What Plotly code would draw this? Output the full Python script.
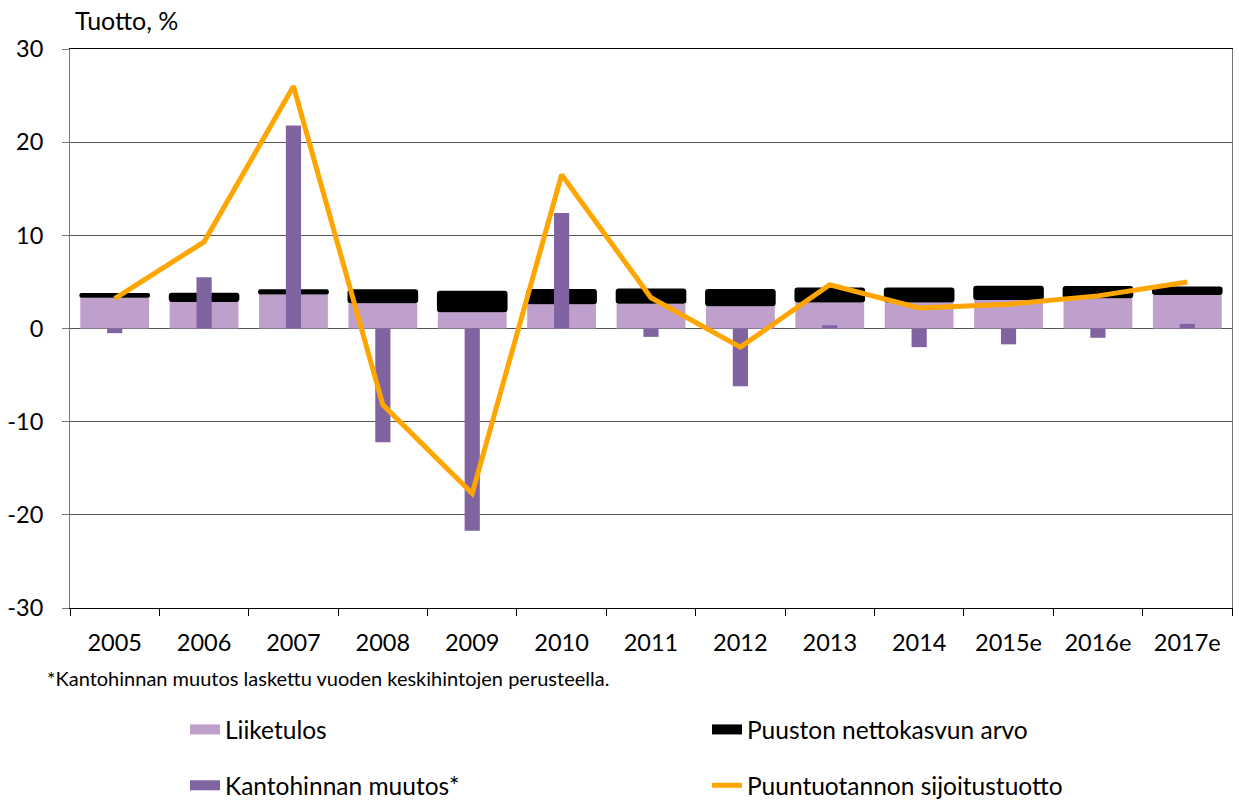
import plotly.graph_objects as go

years = ["2005", "2006", "2007", "2008", "2009", "2010", "2011", "2012", "2013",
         "2014", "2015e", "2016e", "2017e"]
liiketulos = [3.3, 2.85, 3.65, 2.7, 1.75, 2.6, 2.65, 2.4, 2.8, 2.8, 3.05, 3.25, 3.6]
nettokasvu = [0.5, 1.0, 0.55, 1.5, 2.3, 1.65, 1.65, 1.85, 1.6, 1.6, 1.55, 1.3, 0.9]
kantohinta = [-0.5, 5.5, 21.8, -12.2, -21.7, 12.4, -0.9, -6.2, 0.35, -2.0, -1.7, -1.0, 0.5]
sijoitustuotto = [3.2, 9.3, 26.0, -8.2, -17.7, 16.5, 3.3, -2.0, 4.7, 2.2, 2.6, 3.5, 5.0]
y_ticks = [-30, -20, -10, 0, 10, 20, 30]
y_ticktext = ["-30", "-20", "-10", "0", "10", "20", "30"]

C_LIIKE = "#BFA0CC"
C_NETTO = "#000000"
C_KANTO = "#8064A2"
C_LINE = "#FFA500"
FONT = "Lato, 'Open Sans', sans-serif"

fig = go.Figure()
fig.add_trace(go.Bar(x=years, y=liiketulos, width=0.77, marker=dict(color=C_LIIKE, line_width=0),
                     name="Liiketulos", showlegend=False))
fig.add_trace(go.Bar(x=years, y=nettokasvu, base=liiketulos, width=0.79,
                     marker=dict(color=C_NETTO, line_width=0, cornerradius=3),
                     name="Puuston nettokasvun arvo", showlegend=False))
fig.add_trace(go.Bar(x=years, y=kantohinta, width=0.17, marker=dict(color=C_KANTO, line_width=0),
                     name="Kantohinnan muutos*", showlegend=False))
fig.add_trace(go.Scatter(x=years, y=sijoitustuotto, mode="lines",
                         line=dict(color=C_LINE, width=5),
                         name="Puuntuotannon sijoitustuotto", showlegend=False))

# legend entries
def leg(name, color, width, legend, group):
    fig.add_trace(go.Scatter(x=[None], y=[None], mode="lines", name=name,
                             line=dict(color=color, width=width),
                             legend=legend, legendgroup=group, showlegend=True))

leg("Liiketulos", C_LIIKE, 17, "legend", "a")
leg("Kantohinnan muutos*", C_KANTO, 17, "legend", "b")
leg("Puuston nettokasvun arvo", C_NETTO, 17, "legend2", "c")
leg("Puuntuotannon sijoitustuotto", C_LINE, 5, "legend2", "d")

legend_common = dict(orientation="v", font=dict(family=FONT, size=24.5, color="#000"),
                     bgcolor="rgba(0,0,0,0)", tracegroupgap=21, xanchor="left", yanchor="top",
                     xref="container", yref="container",
                     itemwidth=30, itemclick=False, itemdoubleclick=False)

fig.update_layout(
    width=1239, height=802,
    margin=dict(l=70, r=7, t=49, b=194, autoexpand=False),
    barmode="overlay",
    plot_bgcolor="white", paper_bgcolor="white",
    font=dict(family=FONT, size=23.5, color="#000"),
    legend=dict(x=185 / 1239, y=1 - 707 / 802, **legend_common),
    legend2=dict(x=707 / 1239, y=1 - 707 / 802, **legend_common),
    xaxis=dict(type="category", showgrid=False, ticks="outside", tickson="boundaries",
               ticklen=7, tickcolor="#000", showline=True, linecolor="#000", linewidth=1,
               mirror=True, tickfont=dict(size=23.5, family=FONT), ticklabelstandoff=14,
               automargin=False),
    yaxis=dict(range=[-30, 30], tickmode="array", tickvals=y_ticks, ticktext=y_ticktext,
               showgrid=True, gridcolor="#555", gridwidth=1,
               zeroline=True, zerolinecolor="#555", zerolinewidth=1,
               ticks="outside", ticklen=7, tickcolor="#777", showline=True,
               linecolor="#777", linewidth=1, mirror=True,
               tickfont=dict(size=23.5, family=FONT), ticklabelstandoff=14, automargin=False),
    annotations=[
        dict(text="Tuotto, %", xref="paper", yref="paper", x=(73 - 70) / 1162, y=1.0,
             xanchor="left", yanchor="bottom", yshift=12, showarrow=False,
             font=dict(size=25, family=FONT)),
        dict(text="*Kantohinnan muutos laskettu vuoden keskihintojen perusteella.",
             xref="paper", yref="paper", x=(45 - 70) / 1162, y=(608 - 678) / 559,
             xanchor="left", yanchor="middle", showarrow=False,
             font=dict(size=20, family=FONT)),
    ],
)

fig.write_html("out.html", config={"responsive": False, "displayModeBar": False},
               post_script="document.body.style.margin='0';document.body.style.overflow='hidden';")
